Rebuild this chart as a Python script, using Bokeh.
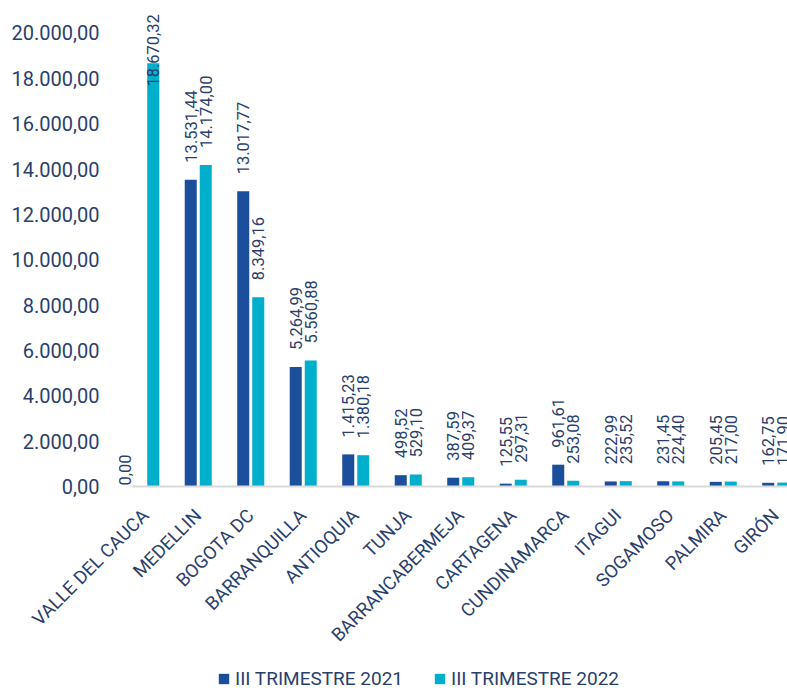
import math
from bokeh.plotting import figure
from bokeh.models import Range1d, FixedTicker, Legend, LegendItem, ColumnDataSource
from bokeh.core.properties import value
from bokeh.embed import file_html
from bokeh.resources import INLINE

# ---------------- data ----------------
categories = ["VALLE DEL CAUCA", "MEDELLIN", "BOGOTA DC", "BARRANQUILLA", "ANTIOQUIA",
              "TUNJA", "BARRANCABERMEJA", "CARTAGENA", "CUNDINAMARCA", "ITAGUI",
              "SOGAMOSO", "PALMIRA", "GIRÓN"]
series_names = ["III TRIMESTRE 2021", "III TRIMESTRE 2022"]
values_2021 = [0.00, 13531.44, 13017.77, 5264.99, 1415.23, 498.52, 387.59, 125.55,
               961.61, 222.99, 231.45, 205.45, 162.75]
values_2022 = [18670.32, 14174.00, 8349.16, 5560.88, 1380.18, 529.10, 409.37, 297.31,
               253.08, 235.52, 224.40, 217.00, 171.90]
y_ticks = [0, 2000, 4000, 6000, 8000, 10000, 12000, 14000, 16000, 18000, 20000]

# ---------------- style ----------------
FONT = "Roboto"
TEXT_COLOR = "#2A3F6C"
COL_2021 = "#1B4F9C"
COL_2022 = "#00AFCB"


def fmt(v):
    s = f"{v:,.2f}"
    return s.replace(",", "X").replace(".", ",").replace("X", ".")


PX_PER_UNIT = 0.022675
Y_END = 21433
Y_START = -8997
CAT_PX = 52.5
LEFT_PX = 119
LABEL_CAP = 20833      # labels are kept inside the plot area
BAR_W = 0.229
OFFSET = 0.143

p = figure(width=787, height=690, output_backend="svg", toolbar_location=None,
           x_range=Range1d(-LEFT_PX / CAT_PX, (787 - LEFT_PX) / CAT_PX),
           y_range=Range1d(Y_START, Y_END),
           min_border_left=0, min_border_right=0, min_border_top=0,
           min_border_bottom=0)
p.background_fill_color = None
p.border_fill_color = "white"
p.outline_line_color = None
p.xgrid.visible = False
p.ygrid.visible = False

renderers = []
for vals, col, off in [(values_2021, COL_2021, -OFFSET), (values_2022, COL_2022, OFFSET)]:
    xs = [i + 0.5 + off for i in range(len(categories))]
    r = p.vbar(x=xs, top=vals, bottom=0, width=BAR_W, fill_color=col, line_color=None)
    renderers.append(r)

    # data labels
    lx, ly, lt, la, xo, yo = [], [], [], [], [], []
    for x, v in zip(xs, vals):
        txt = fmt(v)
        est_len = len(txt) * 7.9 / PX_PER_UNIT  # approx text length in data units
        lx.append(x)
        lt.append(txt)
        if v == 0:
            ly.append(0); la.append("left"); xo.append(-13); yo.append(-1)
        elif v + 17 / PX_PER_UNIT + est_len > LABEL_CAP:
            ly.append(LABEL_CAP); la.append("right"); xo.append(0); yo.append(0)
        else:
            ly.append(v); la.append("left"); xo.append(0); yo.append(-17)
    src = ColumnDataSource(dict(x=lx, y=ly, text=lt, align=la, xo=xo, yo=yo))
    p.text(x="x", y="y", text="text", source=src, angle=math.pi / 2,
           text_align="align", text_baseline="middle", x_offset="xo", y_offset="yo",
           text_font=value(FONT), text_font_size="16.5px", text_color=TEXT_COLOR)

# x axis (fixed at value 0)
p.xaxis.fixed_location = 0
p.xaxis.bounds = (0.23, len(categories))
p.xaxis.ticker = FixedTicker(ticks=[i + 0.5 for i in range(len(categories))])
p.xaxis.major_label_overrides = {i + 0.5: c for i, c in enumerate(categories)}
p.xaxis.major_label_orientation = math.pi / 4
p.xaxis.major_label_text_font = FONT
p.xaxis.major_label_text_font_size = "18.5px"
p.xaxis.major_label_text_color = TEXT_COLOR
p.xaxis.major_label_standoff = 20
p.xaxis.axis_line_color = "#D9D9D9"
p.xaxis.axis_line_width = 2
p.xaxis.major_tick_line_color = None
p.xaxis.minor_tick_line_color = None

# y axis (fixed at left edge of category area)
p.yaxis.fixed_location = 0
p.yaxis.ticker = FixedTicker(ticks=y_ticks)
p.yaxis.major_label_overrides = {t: fmt(t) for t in y_ticks}
p.yaxis.major_label_text_font = FONT
p.yaxis.major_label_text_font_size = "20px"
p.yaxis.major_label_text_color = TEXT_COLOR
p.yaxis.major_label_standoff = 14
p.yaxis.axis_line_color = None
p.yaxis.major_tick_line_color = None
p.yaxis.minor_tick_line_color = None

legend = Legend(items=[LegendItem(label=n, renderers=[r]) for n, r in zip(series_names, renderers)],
                orientation="horizontal", location=(217, 0))
legend.label_text_font = FONT
legend.label_text_font_size = "19px"
legend.label_text_color = TEXT_COLOR
legend.glyph_width = 13
legend.glyph_height = 13
legend.label_standoff = 5
legend.spacing = 30
legend.padding = 0
legend.margin = 0
legend.border_line_color = None
legend.background_fill_alpha = 0
p.add_layout(legend, "center")

open("out.html", "w").write(file_html(p, INLINE))
